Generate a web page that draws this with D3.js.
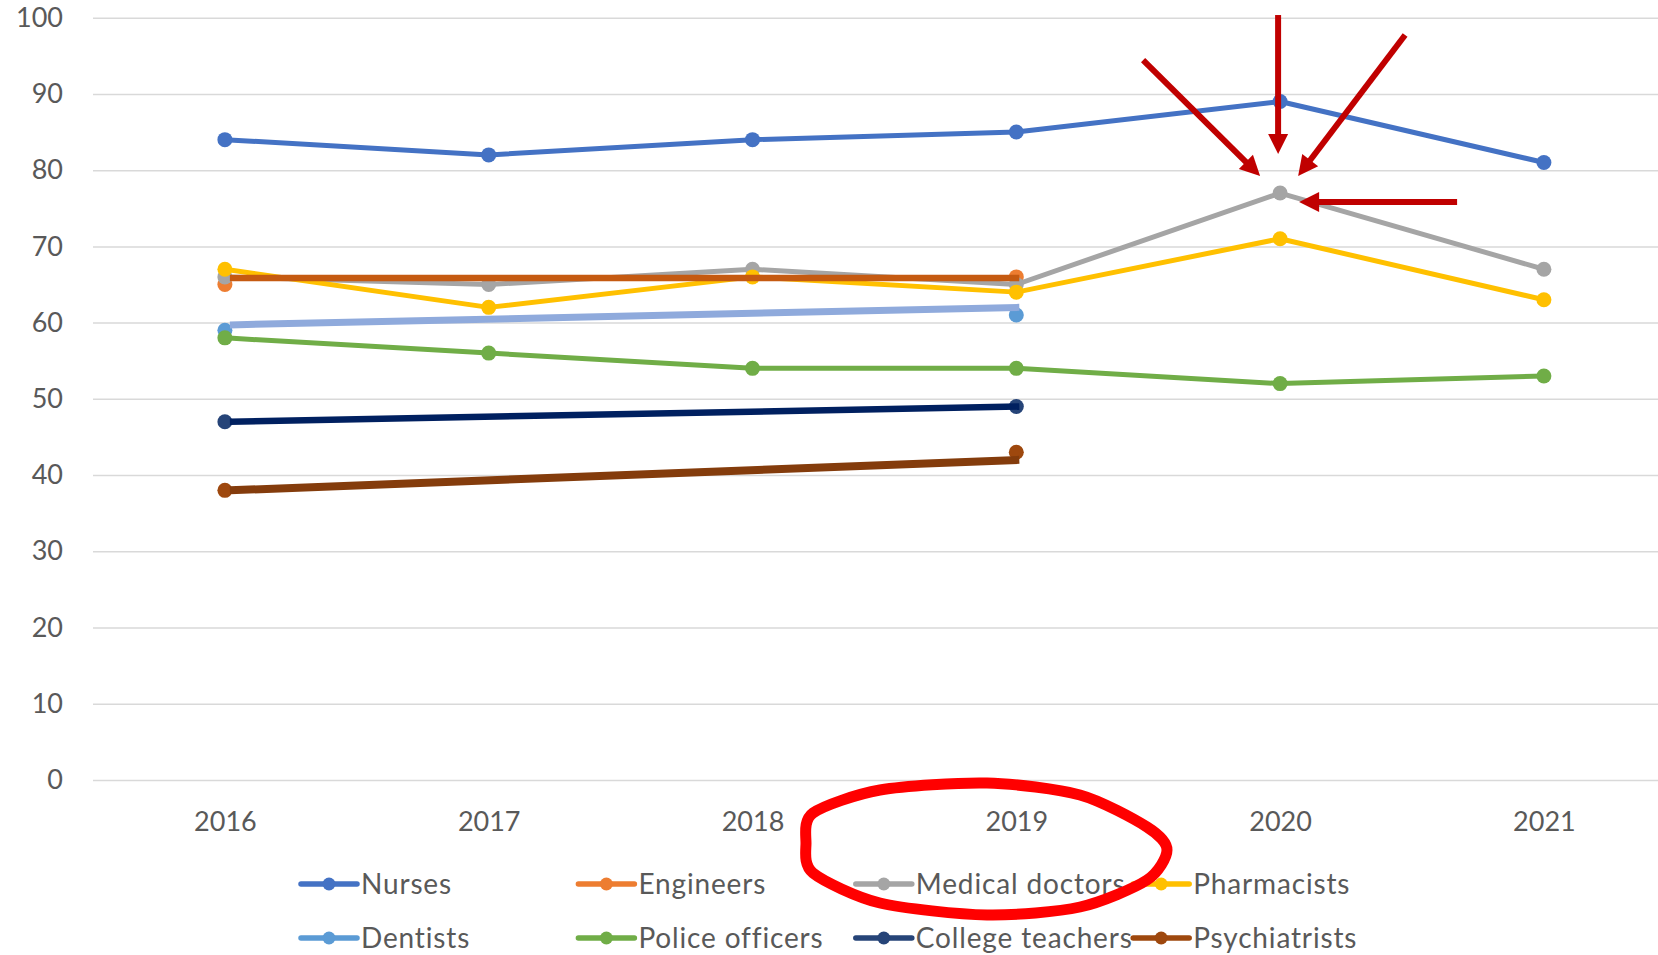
<!DOCTYPE html>
<meta charset="utf-8">
<title>Trust in professions</title>
<style>
body {
	margin: 0;
	background: #fff;
}

svg text {
	font-family: Lato, "Open Sans", sans-serif;
	fill: #595959;
}

.grid line {
	stroke: #d9d9d9;
	stroke-width: 1.5px;
}
</style>
<svg width="1658" height="955"></svg>
<script src="https://cdn.jsdelivr.net/npm/d3@7"></script>
<script>
// years on the category axis
var years = ['2016', '2017', '2018', '2019', '2020', '2021']
var yTicks = [0, 10, 20, 30, 40, 50, 60, 70, 80, 90, 100]

// one array per profession, null = no survey value that year
var nurses = [84, 82, 84, 85, 89, 81]
var engineers = [65, null, null, 66, null, null]
var medicalDoctors = [66, 65, 67, 65, 77, 67]
var pharmacists = [67, 62, 66, 64, 71, 63]
var dentists = [59, null, null, 61, null, null]
var policeOfficers = [58, 56, 54, 54, 52, 53]
var collegeTeachers = [47, null, null, 49, null, null]
var psychiatrists = [38, null, null, 43, null, null]

var seriesNames = ['Nurses', 'Engineers', 'Medical doctors', 'Pharmacists',
	'Dentists', 'Police officers', 'College teachers', 'Psychiatrists']
var seriesValues = [nurses, engineers, medicalDoctors, pharmacists,
	dentists, policeOfficers, collegeTeachers, psychiatrists]

// straight lines someone drew over the gappy series: [year, value] to [year, value]
var drawnFrom = [['2016', 65.85], ['2016', 59.7], ['2016', 47.0], ['2016', 38.0]]
var drawnTo = [['2019', 65.85], ['2019', 62.0], ['2019', 49.0], ['2019', 42.0]]

var colors = ['#4472c4', '#ed7d31', '#a5a5a5', '#ffc000', '#5b9bd5', '#70ad47', '#264478', '#9e480e']
var drawnColors = ['#c55a11', '#8faadc', '#002060', '#843c0c']
var drawnWidths = [6.5, 7, 6.5, 8]

var svg = d3.select('svg'),
	width = +svg.attr('width'),
	height = +svg.attr('height')

var plotLeft = 93, plotTop = 17.7, plotBottom = 780
var step = 263.8

var x = d3.scalePoint().domain(years).range([plotLeft, plotLeft + step * years.length]).padding(0.5)
var y = d3.scaleLinear().domain([0, 100]).range([plotBottom, plotTop])

// gridlines + y labels
var yAxis = svg.append('g')
	.attr('class', 'grid')
	.attr('transform', 'translate(' + plotLeft + ',0)')
	.call(d3.axisLeft(y).tickValues(yTicks).tickSize(-(width - plotLeft)).tickPadding(30))
yAxis.select('.domain').remove()
yAxis.selectAll('text').style('font-size', '27px').attr('fill', '#595959')

var xAxis = svg.append('g')
	.attr('transform', 'translate(0,' + plotBottom + ')')
	.call(d3.axisBottom(x).tickSize(0).tickPadding(32))
xAxis.select('.domain').remove()
xAxis.selectAll('text').style('font-size', '27px').attr('fill', '#595959')

var line = d3.line()
	.defined(function(d) { return d != null })
	.x(function(d, i) { return x(years[i]) })
	.y(function(d) { return y(d) })

seriesValues.forEach(function(vals, s) {
	var g = svg.append('g')
	g.append('path')
		.attr('d', line(vals))
		.attr('fill', 'none')
		.attr('stroke', colors[s])
		.attr('stroke-width', 5)
		.attr('stroke-linejoin', 'round')
	g.selectAll('circle')
		.data(vals.map(function(v, i) { return {v: v, i: i} }).filter(function(d) { return d.v != null }))
		.enter().append('circle')
		.attr('cx', function(d) { return x(years[d.i]) })
		.attr('cy', function(d) { return y(d.v) })
		.attr('r', 7.5)
		.attr('fill', colors[s])
})

// the drawn-over straight lines
drawnFrom.forEach(function(a, k) {
	var b = drawnTo[k]
	svg.append('line')
		.attr('x1', x(a[0]) + 5)
		.attr('y1', y(a[1]))
		.attr('x2', x(b[0]) + 3)
		.attr('y2', y(b[1]))
		.attr('stroke', drawnColors[k])
		.attr('stroke-width', drawnWidths[k])
})

// legend, 4 columns x 2 rows
var legend = svg.append('g')
seriesNames.forEach(function(name, i) {
	var col = i % 4, row = Math.floor(i / 4)
	var lx = 301 + col * 277.4, ly = 884 + row * 54
	var item = legend.append('g').attr('transform', 'translate(' + lx + ',' + ly + ')')
	item.append('line')
		.attr('x1', 0).attr('x2', 56)
		.attr('stroke', colors[i])
		.attr('stroke-width', 5.5)
		.attr('stroke-linecap', 'round')
	item.append('circle').attr('cx', 28).attr('r', 6.5).attr('fill', colors[i])
	item.append('text')
		.attr('x', 60)
		.attr('dy', '0.35em')
		.style('font-size', '28px')
		.style('letter-spacing', '0.85px')
		.text(name)
})

// red arrows pointing at the 2020 medical doctors point
var target = [x('2020'), y(77)]
var arrowStarts = [[-2, -178], [-137, -133], [125, -158], [177, 9]]
var arrowTips = [[-2, -39], [-20, -17], [18, -17], [19, 9]]
var headLen = 20, headHalf = 10

arrowStarts.forEach(function(s, k) {
	var t = arrowTips[k]
	var x1 = target[0] + s[0], y1 = target[1] + s[1]
	var x2 = target[0] + t[0], y2 = target[1] + t[1]
	var dx = x2 - x1, dy = y2 - y1, len = Math.sqrt(dx * dx + dy * dy)
	var ux = dx / len, uy = dy / len
	var bx = x2 - ux * headLen, by = y2 - uy * headLen
	svg.append('line')
		.attr('x1', x1).attr('y1', y1)
		.attr('x2', bx + ux * 2).attr('y2', by + uy * 2)
		.attr('stroke', '#c00000')
		.attr('stroke-width', 6)
	svg.append('path')
		.attr('d', 'M' + x2 + ',' + y2 +
			'L' + (bx - uy * headHalf) + ',' + (by + ux * headHalf) +
			'L' + (bx + uy * headHalf) + ',' + (by - ux * headHalf) + 'Z')
		.attr('fill', '#c00000')
})

// hand drawn red loop round 2019 / Medical doctors
var loop = [[806, 843], [813, 813], [880, 790], [987, 783], [1080, 795], [1147, 827],
	[1167, 850], [1147, 880], [1080, 907], [987, 915], [880, 903], [813, 873]]
svg.append('path')
	.attr('d', d3.line().curve(d3.curveCardinalClosed.tension(0.2))(loop))
	.attr('fill', 'none')
	.attr('stroke', '#ff0000')
	.attr('stroke-width', 11)
</script>
